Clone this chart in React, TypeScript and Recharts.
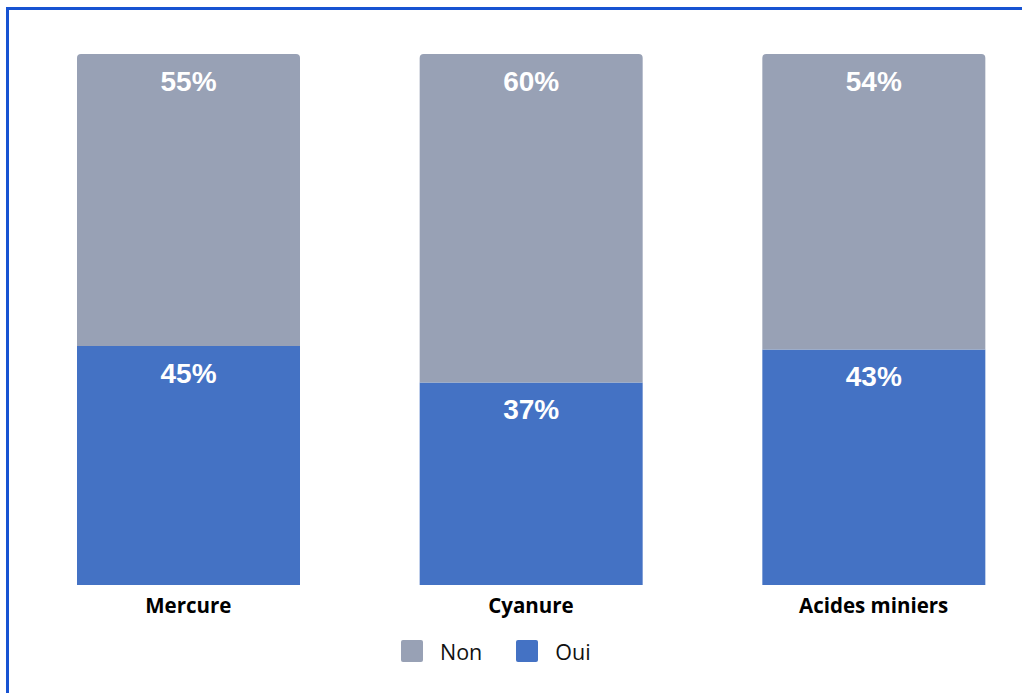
import { BarChart, Bar, XAxis, YAxis, Legend, LabelList } from 'recharts';

const categories = ['Mercure', 'Cyanure', 'Acides miniers'];
const nonValues = [55, 60, 54];
const ouiValues = [45, 37, 43];

const seriesNames = { non: 'Non', oui: 'Oui' };
const colors = { non: '#98A1B5', oui: '#4472C4', frame: '#1753D2' };

const data = categories.map((name, i) => ({
  name,
  oui: ouiValues[i],
  non: nonValues[i],
}));

const renderPct = (props: any) => {
  const { x, y, width, value } = props;
  return (
    <text
      x={Number(x) + Number(width) / 2}
      y={Number(y) + 27}
      fill="#fff"
      textAnchor="middle"
      dominantBaseline="central"
      fontFamily="'Liberation Sans', Arial, sans-serif"
      fontWeight={700}
      fontSize={28}
    >
      {value}%
    </text>
  );
};

const CategoryTick = (props: any) => {
  const { x, y, payload } = props;
  return (
    <text
      x={x}
      y={y}
      dy={20}
      textAnchor="middle"
      fill="#000"
      fontFamily="'Open Sans', sans-serif"
      fontWeight={700}
      fontSize={20.5}
    >
      {payload.value}
    </text>
  );
};

const LegendContent = () => {
  const items = [
    { key: 'non', label: seriesNames.non, color: colors.non },
    { key: 'oui', label: seriesNames.oui, color: colors.oui },
  ];
  return (
    <div style={{ height: 48, display: 'flex', alignItems: 'center', paddingLeft: 401 }}>
      {items.map((it, i) => (
        <div key={it.key} style={{ display: 'flex', alignItems: 'center', marginLeft: i === 0 ? 0 : 34 }}>
          <div style={{ width: 22, height: 22, borderRadius: 2, background: it.color }} />
          <span
            style={{
              marginLeft: 17,
              fontFamily: "'Open Sans', sans-serif",
              fontSize: 21.5,
              color: '#111',
            }}
          >
            {it.label}
          </span>
        </div>
      ))}
    </div>
  );
};

export default function App() {
  return (
    <div
      style={{
        position: 'absolute',
        left: 0,
        top: 0,
        width: 1022,
        height: 693,
        overflow: 'hidden',
        background: '#fff',
      }}
    >
      <div
        style={{
          position: 'absolute',
          left: 6,
          top: 7,
          width: 1100,
          height: 800,
          borderTop: `3px solid ${colors.frame}`,
          borderLeft: `3px solid ${colors.frame}`,
        }}
      />
      <div style={{ position: 'absolute', left: 0, top: 0 }}>
        <BarChart
          width={1045}
          height={693}
          data={data}
          stackOffset="expand"
          margin={{ top: 54, right: 0, left: 17, bottom: 18 }}
        >
          <XAxis
            dataKey="name"
            axisLine={false}
            tickLine={false}
            interval={0}
            height={42}
            tick={<CategoryTick />}
          />
          <YAxis hide />
          <Legend
            verticalAlign="bottom"
            content={<LegendContent />}
            wrapperStyle={{ left: 0, width: 1045 }}
          />
          <Bar dataKey="oui" name={seriesNames.oui} stackId="a" fill={colors.oui} barSize={223} isAnimationActive={false}>
            <LabelList dataKey="oui" content={renderPct} />
          </Bar>
          <Bar
            dataKey="non"
            name={seriesNames.non}
            stackId="a"
            fill={colors.non}
            barSize={223}
            radius={[4, 4, 0, 0]}
            isAnimationActive={false}
          >
            <LabelList dataKey="non" content={renderPct} />
          </Bar>
        </BarChart>
      </div>
    </div>
  );
}
